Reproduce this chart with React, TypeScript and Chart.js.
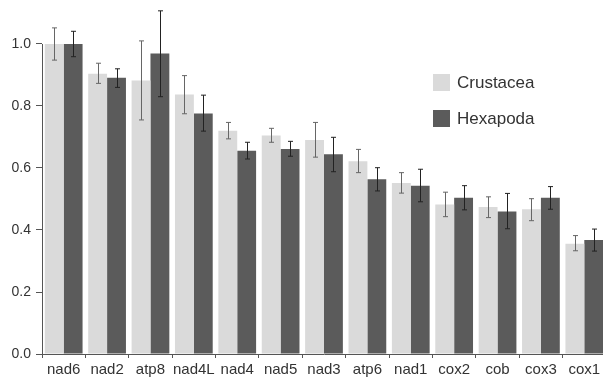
import React, { useEffect, useRef } from 'react';
import { Chart, registerables } from 'chart.js';

Chart.register(...registerables);

const genes = ['nad6', 'nad2', 'atp8', 'nad4L', 'nad4', 'nad5', 'nad3', 'atp6', 'nad1', 'cox2', 'cob', 'cox3', 'cox1'];
const crustacea = [1.0, 0.904, 0.882, 0.837, 0.72, 0.705, 0.69, 0.622, 0.552, 0.482, 0.474, 0.467, 0.356];
const crustaceaUpper = [1.052, 0.938, 1.01, 0.898, 0.747, 0.728, 0.747, 0.66, 0.585, 0.522, 0.507, 0.501, 0.382];
const crustaceaLower = [0.948, 0.873, 0.755, 0.775, 0.694, 0.683, 0.635, 0.585, 0.519, 0.443, 0.44, 0.43, 0.333];
const hexapoda = [1.0, 0.891, 0.969, 0.776, 0.656, 0.661, 0.644, 0.564, 0.543, 0.504, 0.46, 0.504, 0.368];
const hexapodaUpper = [1.041, 0.92, 1.107, 0.835, 0.683, 0.686, 0.699, 0.601, 0.596, 0.543, 0.518, 0.54, 0.403];
const hexapodaLower = [0.959, 0.86, 0.83, 0.719, 0.629, 0.638, 0.588, 0.526, 0.491, 0.465, 0.404, 0.467, 0.332];
const yAxisTop = 1.0;

const FONT = "'Liberation Sans', Arial, sans-serif";

const errorBarPlugin = {
  id: 'errorBars',
  afterDatasetsDraw(chart: any) {
    const ctx = chart.ctx;
    const y = chart.scales.y;
    const sets = [
      { upper: crustaceaUpper, lower: crustaceaLower, color: '#666666' },
      { upper: hexapodaUpper, lower: hexapodaLower, color: '#222222' },
    ];
    ctx.save();
    ctx.lineWidth = 1;
    sets.forEach((s, i) => {
      const meta = chart.getDatasetMeta(i);
      ctx.strokeStyle = s.color;
      meta.data.forEach((bar: any, j: number) => {
        const x = Math.round(bar.x) + 0.5;
        const yt = y.getPixelForValue(s.upper[j]);
        const yb = y.getPixelForValue(s.lower[j]);
        ctx.beginPath();
        ctx.moveTo(x, yt);
        ctx.lineTo(x, yb);
        ctx.moveTo(x - 2.5, yt);
        ctx.lineTo(x + 2.5, yt);
        ctx.moveTo(x - 2.5, yb);
        ctx.lineTo(x + 2.5, yb);
        ctx.stroke();
      });
    });
    // y axis line from 0 to 1.0
    const xl = Math.round(chart.chartArea.left) + 0.5;
    ctx.strokeStyle = '#555555';
    ctx.beginPath();
    ctx.moveTo(xl, y.getPixelForValue(0));
    ctx.lineTo(xl, y.getPixelForValue(yAxisTop));
    ctx.stroke();
    ctx.restore();
  },
};

const legendPlugin = {
  id: 'customLegend',
  afterDraw(chart: any, _args: any, opts: any) {
    const ctx = chart.ctx;
    ctx.save();
    ctx.font = `17px ${FONT}`;
    ctx.textBaseline = 'middle';
    chart.data.datasets.forEach((ds: any, i: number) => {
      const top = opts.top + i * opts.spacing;
      ctx.fillStyle = ds.backgroundColor;
      ctx.fillRect(opts.left, top, opts.box, opts.box);
      ctx.fillStyle = '#333333';
      ctx.fillText(ds.label, opts.left + opts.box + 7, top + opts.box / 2 + 1);
    });
    ctx.restore();
  },
};

export default function App() {
  const ref = useRef<HTMLCanvasElement>(null);
  useEffect(() => {
    document.body.style.margin = '0';
    const chart = new Chart(ref.current as HTMLCanvasElement, {
      type: 'bar',
      data: {
        labels: genes,
        datasets: [
          { label: 'Crustacea', data: crustacea, backgroundColor: '#dadada', borderWidth: 0 },
          { label: 'Hexapoda', data: hexapoda, backgroundColor: '#5b5b5b', borderWidth: 0 },
        ],
      },
      options: {
        responsive: false,
        animation: false,
        devicePixelRatio: 1,
        layout: { padding: 0 },
        datasets: { bar: { categoryPercentage: 0.87, barPercentage: 1.0 } },
        plugins: {
          legend: { display: false },
          tooltip: { enabled: false },
          customLegend: { left: 433, top: 74, box: 17, spacing: 36 },
        } as any,
        scales: {
          x: {
            offset: true,
            grid: { offset: true, drawOnChartArea: false, drawTicks: true, tickLength: 4, color: '#555555' },
            border: { display: true, color: '#555555' },
            ticks: { color: '#333333', font: { family: FONT, size: 15 }, padding: 3, maxRotation: 0, autoSkip: false },
            afterFit: (s: any) => {
              s.height = 27;
              s.paddingLeft = 0;
              s.paddingRight = 0;
            },
          },
          y: {
            min: 0,
            max: 354 / 310,
            grid: { drawOnChartArea: false, drawTicks: true, tickLength: 6, color: '#555555' },
            border: { display: false },
            ticks: {
              stepSize: 0.2,
              color: '#333333',
              font: { family: FONT, size: 14 },
              padding: 5,
              callback: (v: any) => Number(v).toFixed(1),
            },
            afterBuildTicks: (s: any) => {
              s.ticks = s.ticks.filter((t: any) => t.value <= yAxisTop + 1e-6);
            },
            afterFit: (s: any) => {
              s.width = 42;
              s.paddingTop = 0;
              s.paddingBottom = 0;
            },
          },
        },
      },
      plugins: [errorBarPlugin, legendPlugin],
    });
    return () => chart.destroy();
  }, []);
  return (
    <div style={{ position: 'absolute', left: 0, top: 0, width: 603, height: 381, overflow: 'hidden', background: '#ffffff' }}>
      <canvas ref={ref} width={606} height={381} style={{ width: 606, height: 381, display: 'block' }} />
    </div>
  );
}
